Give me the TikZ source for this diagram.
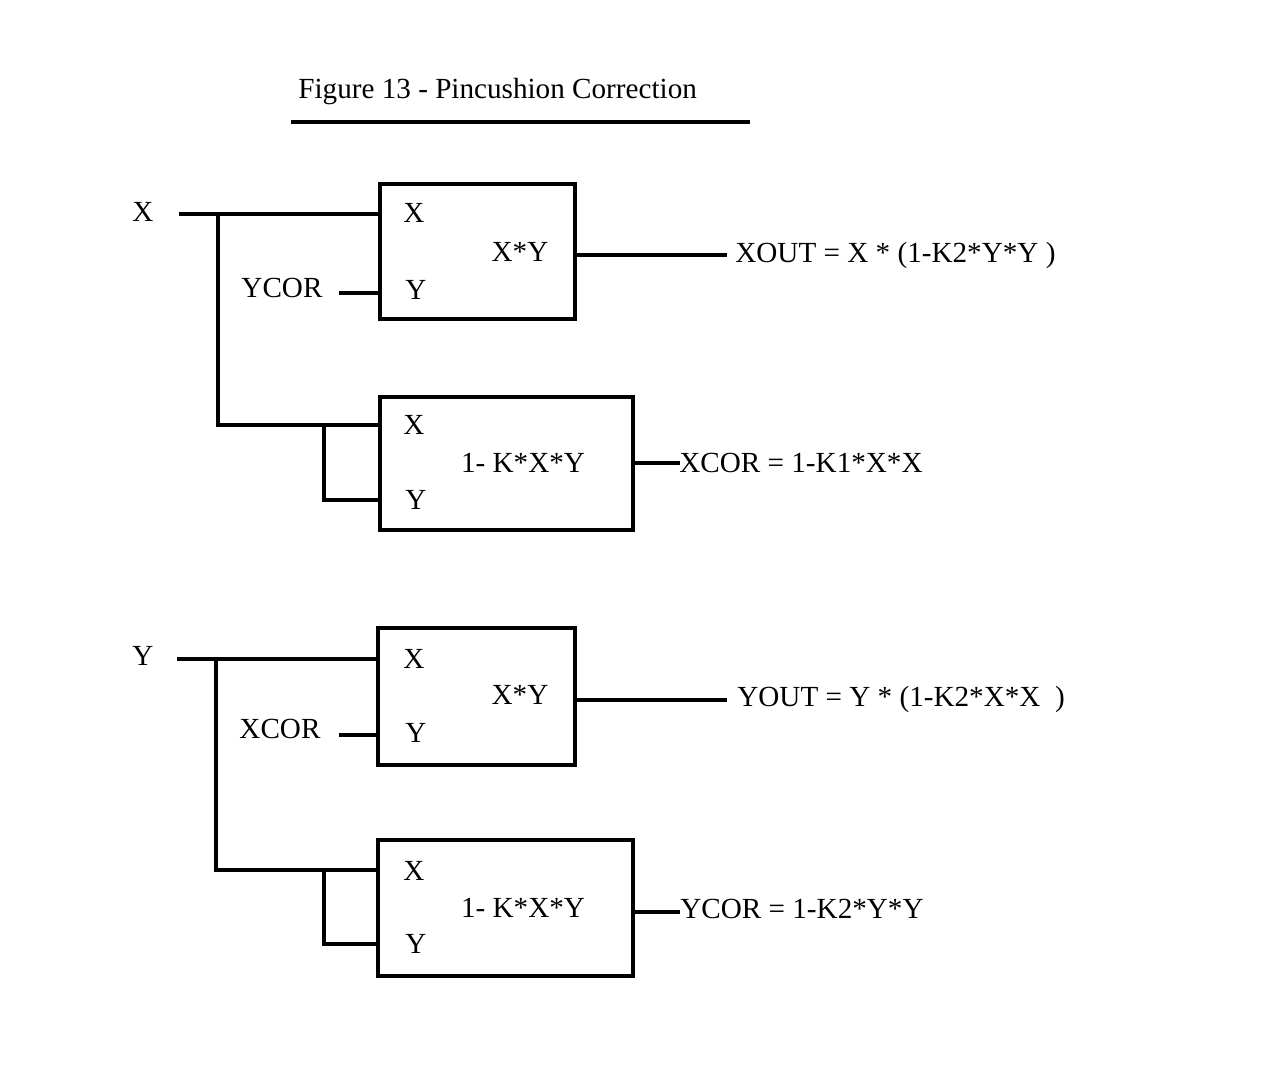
\documentclass[tikz,border=0pt]{standalone}
\usepackage{fontspec}
\setmainfont{Liberation Serif}
\begin{document}
\begin{tikzpicture}[x=0.02cm,y=-0.02cm,
  wire/.style={line width=1.8pt,line cap=rect},
  blk/.style={draw,line width=1.8pt,rectangle,inner sep=0pt},
  txt/.style={inner sep=0pt,font=\fontsize{16.6}{19}\selectfont},
]
\useasboundingbox (0,0) rectangle (1262,1090);
% title
\node[txt,anchor=west] (title) at (298,92) {Figure 13 - Pincushion Correction};
\coordinate (ulA) at (291,122);
\coordinate (ulB) at (750,122);
\draw[line width=1.9pt] (ulA) -- (ulB);

% ---------- upper section ----------
\node[blk,minimum width=3.9cm,minimum height=2.7cm] (b1) at (477.5,251.5) {};
\node[blk,minimum width=5.06cm,minimum height=2.66cm] (b2) at (506.5,463.5) {};
\node[txt] (b1x) at (414,213) {X};
\node[txt] (b1y) at (416,290) {Y};
\node[txt] (b1f) at (520,252) {X*Y};
\node[txt] (b2x) at (414,425) {X};
\node[txt] (b2y) at (416,500) {Y};
\node[txt] (b2f) at (523,463) {1- K*X*Y};

\node[txt] (inX) at (143,212) {X};
\coordinate (xs) at (181,214);
\coordinate (xj) at (218,214);
\coordinate (xk) at (218,425);
\coordinate (xf) at (324,425);
\coordinate (xg) at (324,500);
\draw[wire] (xs) -- (xs -| b1.west);
\draw[wire] (xj) -- (xk) -- (xk -| b2.west);
\draw[wire] (xf) -- (xg) -- (xg -| b2.west);
\node[txt] (ycorin) at (282,288) {YCOR};
\coordinate (ycs) at (341,293);
\draw[wire] (ycs) -- (ycs -| b1.west);
\node[txt,anchor=west] (xout) at (735,255) {XOUT = X * (1-K2*Y*Y )};
\coordinate (xoe) at (725,255);
\draw[wire] (xoe -| b1.east) -- (xoe);
\node[txt,anchor=west] (xcor) at (679,463) {XCOR = 1-K1*X*X};
\coordinate (xce) at (678,463);
\draw[wire] (xce -| b2.east) -- (xce);

% ---------- lower section ----------
\node[blk,minimum width=3.94cm,minimum height=2.74cm] (b3) at (476.5,696.5) {};
\node[blk,minimum width=5.1cm,minimum height=2.72cm] (b4) at (505.5,908) {};
\node[txt] (b3x) at (414,659) {X};
\node[txt] (b3y) at (416,733) {Y};
\node[txt] (b3f) at (520,695) {X*Y};
\node[txt] (b4x) at (414,871) {X};
\node[txt] (b4y) at (416,944) {Y};
\node[txt] (b4f) at (523,908) {1- K*X*Y};

\node[txt] (inY) at (143,656) {Y};
\coordinate (ys) at (179,659);
\coordinate (yj) at (216,659);
\coordinate (yk) at (216,870);
\coordinate (yf) at (324,870);
\coordinate (yg) at (324,944);
\draw[wire] (ys) -- (ys -| b3.west);
\draw[wire] (yj) -- (yk) -- (yk -| b4.west);
\draw[wire] (yf) -- (yg) -- (yg -| b4.west);
\node[txt] (xcorin) at (280,729) {XCOR};
\coordinate (xcs) at (341,735);
\draw[wire] (xcs) -- (xcs -| b3.west);
\node[txt,anchor=west] (yout) at (737,699) {YOUT = Y * (1-K2*X*X\ \ )};
\coordinate (yoe) at (725,700);
\draw[wire] (yoe -| b3.east) -- (yoe);
\node[txt,anchor=west] (ycor) at (680,909) {YCOR = 1-K2*Y*Y};
\coordinate (yce) at (678,912);
\draw[wire] (yce -| b4.east) -- (yce);
\end{tikzpicture}
\end{document}
